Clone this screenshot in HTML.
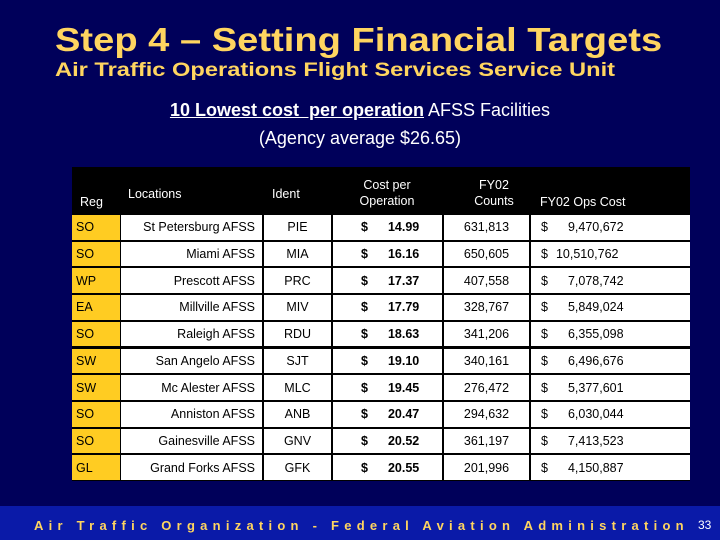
<!DOCTYPE html>
<html><head><meta charset="utf-8">
<style>
body{margin:0;width:720px;height:540px;background:#00005a;overflow:hidden;position:relative;font-family:"Liberation Sans",sans-serif;}
.t{position:absolute;white-space:nowrap;}
#title{left:55px;top:21px;color:#ffd560;font-weight:bold;font-size:33px;transform:scaleX(1.155);transform-origin:left top;}
#sub{left:55px;top:60px;color:#ffd560;font-weight:bold;font-size:19px;transform:scaleX(1.245);transform-origin:left top;}
#h1{left:0;width:720px;text-align:center;top:100px;color:#fff;font-size:18px;}
#h2{left:0;width:720px;text-align:center;top:128px;color:#fff;font-size:18px;}
#tbl{position:absolute;left:72px;top:167px;width:618px;height:314px;background:#000;}
.c{position:absolute;font-size:12.5px;color:#000;display:flex;align-items:center;box-sizing:border-box;}
.hd{position:absolute;color:#fff;font-size:12.5px;text-align:center;line-height:16px;}
#foot{position:absolute;left:0;top:506px;width:720px;height:34px;background:#0a1aa8;}
#ft{left:34px;top:518px;color:#ffd560;font-size:13px;font-weight:bold;letter-spacing:5.25px;}
#pg{left:698px;top:518px;color:#fff;font-size:12px;}
</style></head><body>
<div class="t" id="title">Step 4 – Setting Financial Targets</div>
<div class="t" id="sub">Air Traffic Operations Flight Services Service Unit</div>
<div class="t" id="h1"><b><u>10 Lowest cost&nbsp; per operation</u></b> AFSS Facilities</div>
<div class="t" id="h2">(Agency average $26.65)</div>
<div id="tbl"></div>
<div id="foot"></div>
<div class="t" id="ft">Air Traffic Organization - Federal Aviation Administration</div>
<div class="t" id="pg">33</div>
<script>
const regions=["SO","SO","WP","EA","SO","SW","SW","SO","SO","GL"];
const locations=["St Petersburg AFSS","Miami AFSS","Prescott AFSS","Millville AFSS","Raleigh AFSS","San Angelo AFSS","Mc Alester AFSS","Anniston AFSS","Gainesville AFSS","Grand Forks AFSS"];
const idents=["PIE","MIA","PRC","MIV","RDU","SJT","MLC","ANB","GNV","GFK"];
const costs=["14.99","16.16","17.37","17.79","18.63","19.10","19.45","20.47","20.52","20.55"];
const counts=["631,813","650,605","407,558","328,767","341,206","340,161","276,472","294,632","361,197","201,996"];
const opsCost=["9,470,672","10,510,762","7,078,742","5,849,024","6,355,098","6,496,676","5,377,601","6,030,044","7,413,523","4,150,887"];
const tbl=document.getElementById('tbl');
const cols=[[0,48],[49,190],[192,259],[261,370],[372,457],[459,618]];
const heads=[["Reg",8,27],["Locations",56,19],["Ident",200,19],["Cost per<br>Operation",265,10],["FY02<br>Counts",372,10],["FY02 Ops Cost",468,27]];
heads.forEach((h,i)=>{const d=document.createElement('div');d.className='hd';


d.style.left=h[1]+'px';d.style.top=h[2]+'px';if(i>=3&&i<5)d.style.width='100px';
if(i==0||i==1||i==2||i==5)d.style.textAlign='left';
d.innerHTML=h[0];tbl.appendChild(d);});
const top0=47,rh=26.7;
for(let r=0;r<regions.length;r++){
 const y=top0+r*rh;
 const vals=[regions[r],locations[r],idents[r],'<b>$</b><b style="margin-left:20px">'+costs[r]+'</b>',counts[r],opsCost[r]];
 cols.forEach((c,i)=>{const d=document.createElement('div');d.className='c';
 
 
 d.style.left=c[0]+'px';d.style.width=(c[1]-c[0])+'px';d.style.top=(y+1)+'px';d.style.height=(rh-2)+'px';
 d.style.background=i==0?'#ffcc22':'#fff';
 if(i==0){d.style.paddingLeft='4px';}
 else if(i==1){d.style.justifyContent='flex-end';d.style.paddingRight='7px';}
 else if(i==2||i==4){d.style.justifyContent='center';}
 else if(i==3){d.style.paddingLeft='28px';}
 else {d.style.paddingLeft='10px';}
 if(i==5){const v=opsCost[r];d.innerHTML='$<span style="margin-left:'+(v.length>9?8:20)+'px">'+v+'</span>';}
 else d.innerHTML=vals[i];
 tbl.appendChild(d);});
}
</script>
</body></html>
